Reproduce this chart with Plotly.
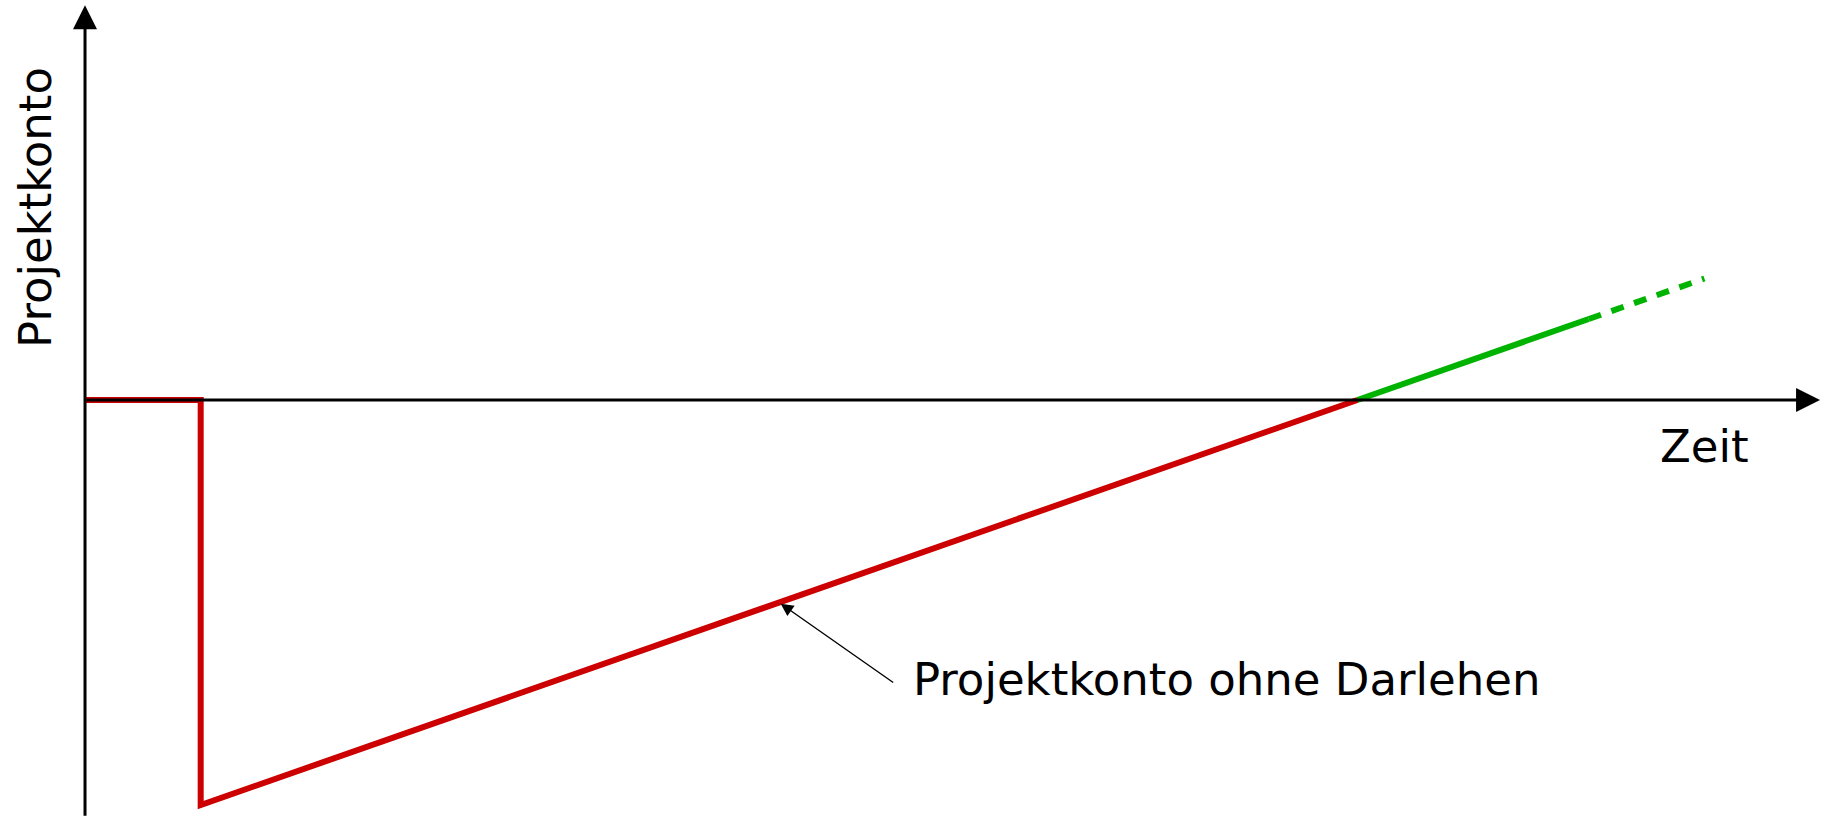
import plotly.graph_objects as go

# Data (time in abstract units, account value in abstract units)
red_t = [0, 1, 1, 11]
red_v = [0, 0, -100, 0]
green_t = [11, 13]
green_v = [0, 20]
green_dash_t = [13, 14]
green_dash_v = [20, 30]

x_label = "Zeit"
y_label = "Projektkonto"
note_text = "Projektkonto ohne Darlehen"
note_point = (6, -50)

FONT = "DejaVu Sans"
FS = 45

fig = go.Figure()
fig.add_trace(go.Scatter(x=red_t, y=red_v, mode="lines",
                         line=dict(color="#cc0000", width=6), hoverinfo="skip"))
fig.add_trace(go.Scatter(x=green_t, y=green_v, mode="lines",
                         line=dict(color="#00b300", width=6), hoverinfo="skip"))
fig.add_trace(go.Scatter(x=green_dash_t, y=green_dash_v, mode="lines",
                         line=dict(color="#00b300", width=6, dash="13px,11px"), hoverinfo="skip"))

ann = []
# x axis arrow
ann.append(dict(x=15, y=0, ax=0, ay=0, xref="x", yref="y", axref="x", ayref="y",
                text="", showarrow=True, arrowhead=2, arrowsize=1.6, arrowwidth=3,
                arrowcolor="black", standoff=0, startstandoff=0))
# y axis arrow
ann.append(dict(x=0, y=97.5, ax=0, ay=-103, xref="x", yref="y", axref="x", ayref="y",
                text="", showarrow=True, arrowhead=2, arrowsize=1.6, arrowwidth=3,
                arrowcolor="black", standoff=0, startstandoff=0))
# note arrow
ann.append(dict(x=note_point[0], y=note_point[1], ax=7.0, ay=-70, xref="x", yref="y",
                axref="x", ayref="y", text="", showarrow=True, arrowhead=2,
                arrowsize=1.8, arrowwidth=1.4, arrowcolor="black", standoff=2))
# texts
ann.append(dict(x=7.14, y=-69, xref="x", yref="y", text=note_text, showarrow=False,
                xanchor="left", yanchor="middle", font=dict(family=FONT, size=FS, color="black")))
ann.append(dict(x=14.0, y=-11.6, xref="x", yref="y", text=x_label, showarrow=False,
                xanchor="center", yanchor="middle", font=dict(family=FONT, size=FS, color="black")))
ann.append(dict(x=-0.43, y=47.5, xref="x", yref="y", text=y_label, showarrow=False,
                textangle=-90, xanchor="center", yanchor="middle",
                font=dict(family=FONT, size=FS, color="black")))

fig.update_layout(
    width=1827, height=817,
    margin=dict(l=0, r=0, t=0, b=0),
    paper_bgcolor="white", plot_bgcolor="white",
    showlegend=False,
    annotations=ann,
    xaxis=dict(range=[-0.735, 15.06], visible=False, fixedrange=True),
    yaxis=dict(range=[-102.96, 98.77], visible=False, fixedrange=True),
)
fig.write_html("out.html", config={"displayModeBar": False},
               post_script="document.body.style.margin='0';document.body.style.overflow='hidden';")
